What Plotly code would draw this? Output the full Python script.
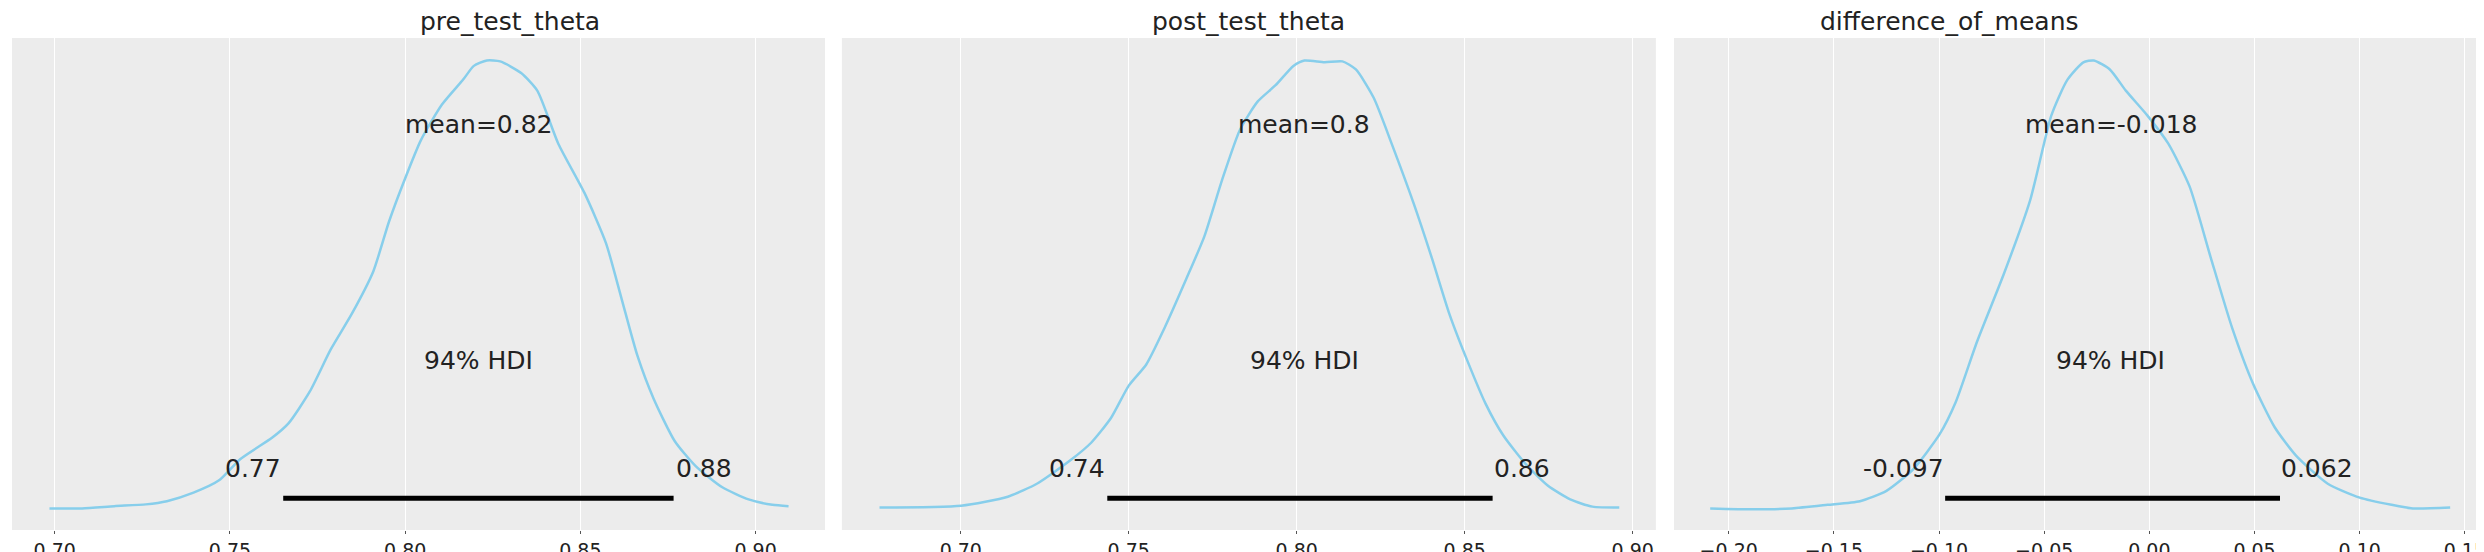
import plotly.graph_objects as go

titles = ["pre_test_theta", "post_test_theta", "difference_of_means"]

pre_x = [0.6985,0.7078,0.717,0.726,0.732,0.7396,0.747,0.753,0.762,0.7667,0.7728,0.7788,0.7848,0.7909,0.7954,0.7999,0.8045,0.8105,0.8165,0.8196,0.8233,0.8271,0.8331,0.8377,0.8437,0.8512,0.8573,0.8618,0.8663,0.8709,0.8769,0.8829,0.8905,0.898,0.9048,0.9094]
pre_d = [0.004,0.004,0.009,0.013,0.020,0.039,0.067,0.114,0.161,0.193,0.264,0.358,0.437,0.531,0.642,0.736,0.823,0.902,0.957,0.988,1.0,0.998,0.972,0.933,0.815,0.705,0.594,0.469,0.343,0.248,0.154,0.098,0.051,0.024,0.012,0.009]

post_x = [0.6758,0.7001,0.714,0.7229,0.7328,0.7388,0.7447,0.75,0.7552,0.7605,0.7671,0.7725,0.7778,0.7831,0.7884,0.7937,0.799,0.8023,0.8083,0.8136,0.8176,0.8229,0.8283,0.8349,0.8402,0.8455,0.8508,0.8562,0.8615,0.8681,0.8747,0.8814,0.888,0.896]
post_d = [0.006,0.010,0.030,0.060,0.112,0.150,0.205,0.277,0.324,0.403,0.514,0.609,0.735,0.846,0.909,0.945,0.988,1.0,0.996,0.998,0.980,0.917,0.814,0.680,0.561,0.435,0.332,0.237,0.166,0.103,0.055,0.024,0.008,0.006]

diff_x = [-0.2088,-0.188,-0.170,-0.153,-0.1376,-0.125,-0.1123,-0.0997,-0.0921,-0.082,-0.0693,-0.0567,-0.0466,-0.039,-0.0314,-0.0264,-0.0188,-0.0112,-0.001,0.009,0.0191,0.0291,0.0393,0.0494,0.0595,0.0696,0.0848,0.1,0.1151,0.1252,0.143]
diff_d = [0.004,0.002,0.004,0.012,0.020,0.043,0.091,0.169,0.240,0.374,0.524,0.689,0.878,0.957,0.996,1.0,0.980,0.933,0.878,0.815,0.720,0.563,0.406,0.280,0.185,0.122,0.059,0.028,0.012,0.004,0.006]

hdi_low = [0.7652, 0.7436, -0.0971]
hdi_high = [0.8766, 0.8583, 0.0621]
hdi_low_labels = ["0.77", "0.74", "-0.097"]
hdi_high_labels = ["0.88", "0.86", "0.062"]
mean_labels = ["mean=0.82", "mean=0.8", "mean=-0.018"]
mean_vals = [0.821, 0.8023, -0.0183]
low_label_x = [0.7566, 0.7346, -0.1167]
high_label_x = [0.8853, 0.8671, 0.0795]

xs = [pre_x, post_x, diff_x]
ds = [pre_d, post_d, diff_d]
xranges = [[0.6878, 0.9198], [0.6646, 0.9069], [-0.226, 0.161]]
tickvals = [[0.70,0.75,0.80,0.85,0.90],[0.70,0.75,0.80,0.85,0.90],[-0.20,-0.15,-0.10,-0.05,0.0,0.05,0.10,0.15]]
ticktext = [["0.70","0.75","0.80","0.85","0.90"],["0.70","0.75","0.80","0.85","0.90"],["\u22120.20","\u22120.15","\u22120.10","\u22120.05","0.00","0.05","0.10","0.15"]]
domains = [[0.0016, 0.3289], [0.3357, 0.6634], [0.6707, 0.9984]]

FONT = "DejaVu Sans"
fig = go.Figure()
anns = []
for i in range(3):
    xa = "x" if i == 0 else f"x{i+1}"
    ya = "y" if i == 0 else f"y{i+1}"
    fig.add_trace(go.Scatter(x=xs[i], y=ds[i], mode="lines", line=dict(color="#87ceeb", width=2.5, shape="spline", smoothing=0.6),
                             xaxis=xa, yaxis=ya, showlegend=False, hoverinfo="skip"))
    fig.add_trace(go.Scatter(x=[hdi_low[i], hdi_high[i]], y=[0.0266, 0.0266], mode="lines", line=dict(color="black", width=5),
                             xaxis=xa, yaxis=ya, showlegend=False, hoverinfo="skip"))
    tf = dict(family=FONT, size=25, color="#222222")
    anns += [
        dict(x=mean_vals[i], y=0.858, xref=xa, yref=ya, text=mean_labels[i], showarrow=False, font=tf),
        dict(x=mean_vals[i], y=0.333, xref=xa, yref=ya, text="94% HDI", showarrow=False, font=tf),
        dict(x=low_label_x[i], y=0.093, xref=xa, yref=ya, text=hdi_low_labels[i], showarrow=False, font=tf),
        dict(x=high_label_x[i], y=0.093, xref=xa, yref=ya, text=hdi_high_labels[i], showarrow=False, font=tf),
        dict(x=(domains[i][0]+domains[i][1])/2, y=1.0, xref="paper", yref="paper", yanchor="bottom", yshift=0,
             text=titles[i], showarrow=False, font=dict(family=FONT, size=25, color="#222222")),
    ]
    axkey = "xaxis" if i == 0 else f"xaxis{i+1}"
    aykey = "yaxis" if i == 0 else f"yaxis{i+1}"
    fig.layout[axkey] = dict(domain=domains[i], range=xranges[i], tickvals=tickvals[i], ticktext=ticktext[i],
                             showgrid=True, gridcolor="white", gridwidth=1.2, zeroline=False,
                             ticks="outside", ticklen=3, tickcolor="#555555", showline=False,
                             tickfont=dict(family=FONT, size=19, color="#222222"), anchor=ya)
    fig.layout[aykey] = dict(domain=[0, 1], range=[-0.044, 1.05], showgrid=False, zeroline=False,
                             showticklabels=False, ticks="", anchor=xa)

fig.update_layout(width=2484, height=552, margin=dict(l=0, r=0, t=30, b=30),
                  plot_bgcolor="#ececec", paper_bgcolor="white", annotations=anns)
fig.write_html("out.html")
